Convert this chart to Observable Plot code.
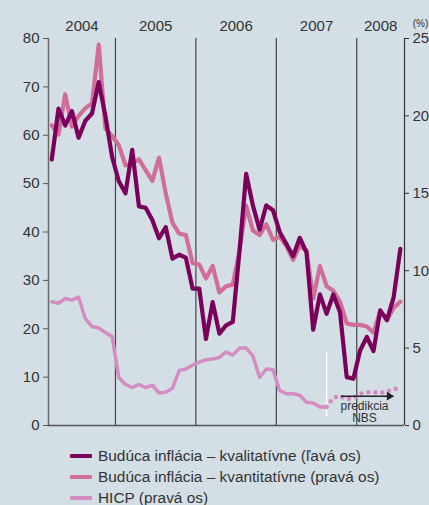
<!DOCTYPE html>
<html><head><meta charset="utf-8">
<script src="https://cdn.jsdelivr.net/npm/d3@7"></script>
<script src="https://cdn.jsdelivr.net/npm/@observablehq/plot@0.6"></script>
<style>
html,body{margin:0;padding:0;background:#d3dee5;}
#wrap{width:429px;height:505px;overflow:hidden;font-family:"Liberation Sans",Arial,sans-serif;color:#333;}
#wrap svg{display:block;background:transparent;}
.legend{padding-top:10px;padding-left:70px;}
.row{display:flex;align-items:center;height:21px;font-size:15.4px;white-space:nowrap;}
.sw{width:22px;height:4px;margin-right:6px;border-radius:1px;}
</style></head><body><div id="wrap"></div>
<script>
const months = [
  "2004-03","2004-04","2004-05","2004-06","2004-07","2004-08","2004-09","2004-10","2004-11","2004-12",
  "2005-01","2005-02","2005-03","2005-04","2005-05","2005-06","2005-07","2005-08","2005-09","2005-10","2005-11","2005-12",
  "2006-01","2006-02","2006-03","2006-04","2006-05","2006-06","2006-07","2006-08","2006-09","2006-10","2006-11","2006-12",
  "2007-01","2007-02","2007-03","2007-04","2007-05","2007-06","2007-07","2007-08","2007-09","2007-10","2007-11","2007-12",
  "2008-01","2008-02","2008-03","2008-04","2008-05","2008-06","2008-07"
];
const years = ["2004","2005","2006","2007","2008"];
const leftTicks = [0,10,20,30,40,50,60,70,80];
const rightTicks = [0,5,10,15,20,25];

// Budúca inflácia – kvalitatívne (ľavá os)
const kvalitativne = [
  55, 65.5, 62, 65, 59.5, 63, 64.5, 71, 64, 55.5,
  50.5, 48, 57, 45.3, 45, 42.5, 38.7, 41, 34.5, 35.3, 34.7, 28.3,
  28.3, 17.9, 25.5, 19, 20.7, 21.4, 36, 52, 45.5, 40.5, 45.5, 44.5,
  40, 37.5, 35, 38.8, 35.8, 19.8, 27.1, 23.1, 27.1, 23.4, 10, 9.7,
  15.5, 18.3, 15.4, 23.8, 21.8, 26.5, 36.5
];
// Budúca inflácia – kvantitatívne (pravá os, %)
const kvantitativne = [
  19.4, 18.8, 21.4, 19.3, 20.0, 20.5, 20.8, 24.6, 19.2, 18.7,
  18.1, 16.8, 16.9, 17.2, 16.5, 15.8, 17.3, 15.0, 13.1, 12.4, 12.3, 10.5,
  10.4, 9.5, 10.3, 8.6, 9.0, 9.1, 11.3, 14.2, 12.6, 12.3, 13.0, 12.0,
  12.2, 11.6, 10.7, 11.6, 11.3, 8.2, 10.3, 9.0, 8.7, 8.0, 6.6, 6.5,
  6.5, 6.4, 6.0, 7.4, 6.8, 7.6, 8.0
];
// HICP (pravá os, %) 2004-03 .. 2007-08
const hicp = [
  8.0, 7.9, 8.2, 8.1, 8.3, 6.9, 6.4, 6.3, 6.0, 5.75,
  3.1, 2.65, 2.45, 2.65, 2.45, 2.6, 2.1, 2.15, 2.4, 3.55, 3.65, 3.9,
  4.1, 4.25, 4.3, 4.4, 4.75, 4.55, 5.0, 5.0, 4.5, 3.1, 3.65, 3.6,
  2.25, 2.05, 2.05, 1.95, 1.5, 1.45, 1.2, 1.2
];
// HICP predikcia NBS 2007-08 .. 2008-07
const predikciaStart = "2007-08";
const hicpPredikcia = [1.2, 1.8, 1.9, 1.7, 1.75, 2.05, 2.15, 2.15, 2.1, 2.2, 2.35, 2.45];

const labels = [
  "Budúca inflácia – kvalitatívne (ľavá os)",
  "Budúca inflácia – kvantitatívne (pravá os)",
  "HICP (pravá os)"
];
const colors = ["#7a005c", "#cf6f98", "#d48cc2"];

// ratio of left axis (0–80) to right axis (0–25)
const R = 80 / 25;
const xMin = -0.49, xMax = 52.62;

const dKval = kvalitativne.map((v, i) => ({i, v}));
const dKvant = kvantitativne.map((v, i) => ({i, v: v * R}));
const dHicp = hicp.map((v, i) => ({i, v: v * R}));
const p0 = months.indexOf(predikciaStart);
const dPred = hicpPredikcia.map((v, j) => ({i: p0 + j, v: v * R}));

const seps = months.map((m, i) => m.endsWith("-01") ? i - 0.5 : null).filter(d => d !== null);
const bounds = [xMin, ...seps, xMax];
const yearPos = years.map((y, j) => ({y, x: (bounds[j] + bounds[j + 1]) / 2}));

const svg = Plot.plot({
  width: 429, height: 435,
  marginLeft: 48, marginRight: 25, marginTop: 38, marginBottom: 10,
  style: {fontFamily: '"Liberation Sans", Arial, sans-serif', color: "#333", background: "transparent"},
  x: {domain: [xMin, xMax], axis: null},
  y: {domain: [0, 80], axis: null},
  marks: [
    Plot.ruleX(seps, {stroke: "#444", strokeWidth: 1.2}),
    Plot.ruleX([xMin], {stroke: "#6a6a6a", strokeWidth: 1.5}),
    Plot.ruleX([xMax], {stroke: "#333", strokeWidth: 1.2}),
    Plot.ruleY([0], {stroke: "#555", strokeWidth: 1.5}),
    Plot.axisY(leftTicks, {anchor: "left", tickSize: 5, tickPadding: 4, fontSize: 15, label: null, stroke: "#555", fill: "#333"}),
    Plot.axisY(rightTicks.map(v => v * R), {anchor: "right", tickSize: 4, tickPadding: 4, fontSize: 15, label: null, tickFormat: d => Math.round(d / R), stroke: "#333", fill: "#333"}),
    Plot.text(yearPos, {x: "x", y: 80, text: "y", dy: -12, fontSize: 15, fill: "#333"}),
    Plot.text(["(%)"], {x: xMax, y: 80, dx: 16, dy: -15, fontSize: 10, fill: "#333"}),
    // annotation: start of forecast, arrow, label
    Plot.ruleX([months.indexOf(predikciaStart)], {y1: 1.86, y2: 15.15, stroke: "white", strokeWidth: 1.5}),
    Plot.line(dHicp, {x: "i", y: "v", stroke: colors[2], strokeWidth: 3.5}),
    Plot.line(dPred, {x: "i", y: "v", stroke: colors[2], strokeWidth: 4.6, strokeDasharray: "0 7", strokeLinecap: "round"}),
    Plot.ruleY([6.06], {x1: 43.2, x2: 50.2, stroke: "#222", strokeWidth: 1.5}),
    Plot.dot([0], {x: 50.35, y: 6.06, symbol: "triangle", r: 3.2, rotate: 90, fill: "#222", stroke: null}),
    Plot.text(["predikcia\nNBS"], {x: 46.65, y: 2.82, fontSize: 12, lineHeight: 1.06, fill: "#333"}),
    Plot.line(dKvant, {x: "i", y: "v", stroke: colors[1], strokeWidth: 4.2}),
    Plot.line(dKval, {x: "i", y: "v", stroke: colors[0], strokeWidth: 4.2})
  ]
});

const wrap = document.getElementById("wrap");
wrap.appendChild(svg);
const leg = document.createElement("div");
leg.className = "legend";
labels.forEach((t, k) => {
  const row = document.createElement("div");
  row.className = "row";
  const sw = document.createElement("span");
  sw.className = "sw";
  sw.style.background = colors[k];
  const tx = document.createElement("span");
  tx.textContent = t;
  row.appendChild(sw); row.appendChild(tx);
  leg.appendChild(row);
});
wrap.appendChild(leg);
</script></body></html>
